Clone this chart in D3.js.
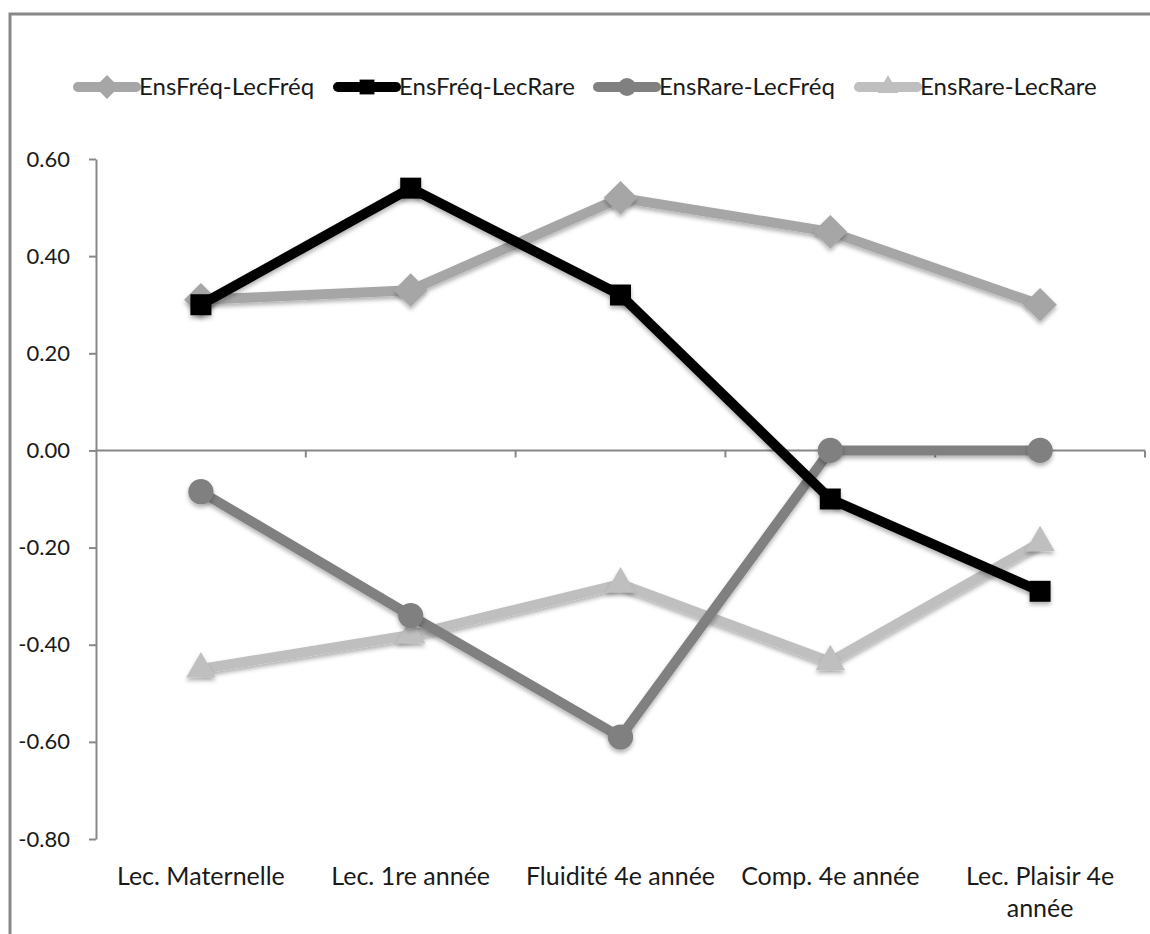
<!DOCTYPE html>
<html>
<head>
<meta charset="utf-8">
<script src="https://cdn.jsdelivr.net/npm/d3@7"></script>
<style>
  body { margin: 0; background: #fff; }
  text { font-family: Lato, 'Open Sans', sans-serif; fill: #1a1a1a; }
</style>
</head>
<body>
<div id='chart'></div>

<script>
  // categories and series
  const categories = ['Lec. Maternelle', 'Lec. 1re année', 'Fluidité 4e année', 'Comp. 4e année', 'Lec. Plaisir 4e année']
  const seriesNames = ['EnsFréq-LecFréq', 'EnsFréq-LecRare', 'EnsRare-LecFréq', 'EnsRare-LecRare']
  const ensFreqLecFreq = [0.31, 0.33, 0.52, 0.45, 0.30]
  const ensFreqLecRare = [0.30, 0.54, 0.32, -0.10, -0.29]
  const ensRareLecFreq = [-0.085, -0.34, -0.59, 0.00, 0.00]
  const ensRareLecRare = [-0.45, -0.38, -0.275, -0.435, -0.19]
  const yTicks = [-0.8, -0.6, -0.4, -0.2, 0, 0.2, 0.4, 0.6]

  const colors = ['#a6a6a6', '#000000', '#808080', '#bfbfbf']
  const symbols = [d3.symbolDiamond2, d3.symbolSquare2, d3.symbolCircle, d3.symbolTriangle2]
  const allSeries = [ensFreqLecFreq, ensFreqLecRare, ensRareLecFreq, ensRareLecRare]

  const width = 1150, height = 934
  const svg = d3.select('#chart').append('svg')
                .attr('width', width)
                .attr('height', height)

  const defs = svg.append('defs')
  const f = defs.append('filter').attr('id', 'shadow')
                .attr('x', '-50%').attr('y', '-50%').attr('width', '200%').attr('height', '200%')
  f.append('feDropShadow').attr('dx', 0).attr('dy', 3).attr('stdDeviation', 2)
   .attr('flood-color', '#000').attr('flood-opacity', 0.3)

  // outer frame
  svg.append('path')
     .attr('d', 'M10,' + height + ' V14 H' + width)
     .attr('fill', 'none')
     .attr('stroke', '#888')
     .attr('stroke-width', 3)

  const x = d3.scaleBand().domain(categories).range([96, 1145])
  const y = d3.scaleLinear().domain([-0.8, 0.6]).range([839, 159])

  // y axis
  const yAxis = svg.append('g').attr('transform', 'translate(96,0)')
                   .call(d3.axisLeft(y).tickValues(yTicks).tickSize(7).tickSizeOuter(0))
  yAxis.select('.domain').attr('stroke', '#888').attr('stroke-width', 2)
  yAxis.selectAll('.tick line').attr('stroke', '#888').attr('stroke-width', 2)
  yAxis.selectAll('.tick text')
       .attr('font-size', 22)
       .attr('font-family', 'Lato, sans-serif')
       .attr('x', -26)
       .attr('fill', '#1a1a1a')
       .text(d => d3.format('.2f')(d).replace('−', '-'))

  // x axis on zero line
  svg.append('line')
     .attr('x1', 96).attr('x2', 1145)
     .attr('y1', y(0)).attr('y2', y(0))
     .attr('stroke', '#888').attr('stroke-width', 2)
  const bounds = categories.map(c => x(c) + x.bandwidth())
  svg.selectAll('.xtick')
     .data(bounds)
     .enter()
     .append('line')
     .attr('x1', d => d).attr('x2', d => d)
     .attr('y1', y(0)).attr('y2', y(0) + 7)
     .attr('stroke', '#888').attr('stroke-width', 2)

  // category labels
  const wrapped = { 'Lec. Plaisir 4e année': ['Lec. Plaisir 4e', 'année'] }
  categories.forEach(function(c) {
    const lines = wrapped[c] || [c]
    const t = svg.append('text')
                 .attr('x', x(c) + x.bandwidth() / 2)
                 .attr('y', 885)
                 .attr('text-anchor', 'middle')
                 .attr('font-size', 25)
    lines.forEach(function(l, i) {
      t.append('tspan').attr('x', x(c) + x.bandwidth() / 2).attr('dy', i ? 32 : 0).text(l)
    })
  })

  const line = d3.line()
                 .x((d, i) => x(categories[i]) + x.bandwidth() / 2)
                 .y(d => y(d))

  const sizes = [720, 560, 500, 620]

  // draw series in reverse order so first series is below
  const order = [3, 2, 0, 1]
  order.forEach(function(s) {
    const g = svg.append('g')
    g.append('path')
     .datum(allSeries[s])
     .attr('d', line)
     .attr('fill', 'none')
     .attr('stroke', colors[s])
     .attr('stroke-width', 10)
     .attr('stroke-linejoin', 'round')
     .attr('filter', 'url(#shadow)')
    g.selectAll('path.marker')
     .data(allSeries[s])
     .enter()
     .append('path')
     .attr('class', 'marker')
     .attr('d', d3.symbol().type(symbols[s]).size(sizes[s]))
     .attr('transform', (d, i) => 'translate(' + (x(categories[i]) + x.bandwidth() / 2) + ',' + y(d) + ')')
     .attr('fill', colors[s])
     .attr('filter', 'url(#shadow)')
  })

  // legend
  const legendX = [78, 338, 598, 859]
  seriesNames.forEach(function(name, s) {
    const g = svg.append('g').attr('transform', 'translate(' + legendX[s] + ',87)')
    g.append('line')
     .attr('x1', 0).attr('x2', 58)
     .attr('stroke', colors[s])
     .attr('stroke-width', 10)
     .attr('stroke-linecap', 'round')
    g.append('path')
     .attr('d', d3.symbol().type(symbols[s]).size(sizes[s] * 0.5))
     .attr('transform', 'translate(29,0)')
     .attr('fill', colors[s])
    g.append('text')
     .attr('x', 61)
     .attr('y', 8)
     .attr('font-size', 24)
     .text(name)
  })
</script>
</body>
</html>
